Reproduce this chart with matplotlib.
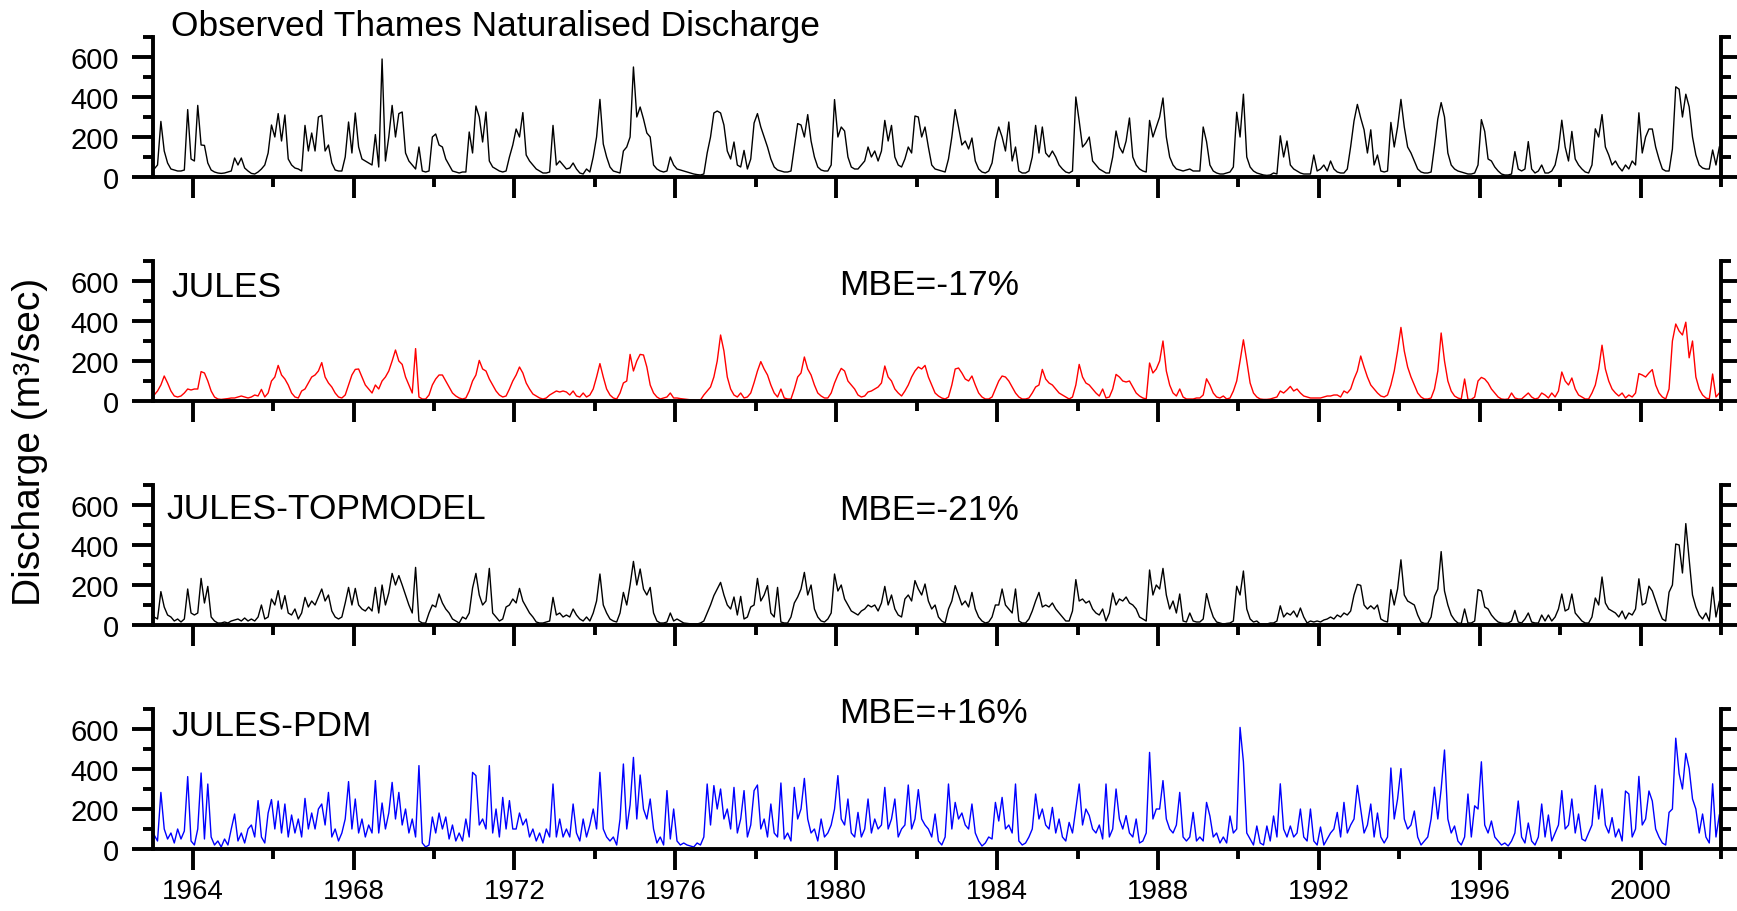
import numpy as np
import matplotlib.pyplot as plt
from matplotlib.ticker import FixedLocator

plt.rcParams['font.family'] = ['Liberation Sans', 'DejaVu Sans']

# --- dane: miesięczne przepływy [m3/s], 1963-2001, 12 wartości na rok ---
years = list(range(1963, 2002))

observed = [
    40, 60, 278, 130, 70, 40, 35, 30, 30, 35, 337, 90,      # 1963
    80, 358, 160, 158, 70, 35, 25, 20, 18, 20, 25, 30,      # 1964
    95, 60, 95, 45, 30, 18, 15, 25, 40, 60, 120, 260,       # 1965
    200, 317, 180, 310, 90, 60, 45, 40, 30, 258, 130, 220,  # 1966
    130, 300, 308, 130, 160, 70, 35, 30, 30, 100, 275, 120, # 1967
    320, 150, 90, 80, 70, 60, 212, 50, 590, 80, 200, 358,   # 1968
    200, 317, 325, 120, 80, 60, 40, 150, 30, 25, 30, 200,   # 1969
    215, 160, 150, 90, 60, 30, 25, 20, 25, 25, 225, 120,    # 1970
    355, 300, 175, 325, 80, 50, 40, 30, 25, 30, 100, 160,   # 1971
    240, 200, 322, 110, 80, 60, 40, 30, 20, 20, 25, 258,    # 1972
    60, 80, 60, 40, 45, 70, 40, 20, 15, 40, 25, 100,        # 1973
    200, 388, 165, 100, 50, 30, 25, 20, 130, 150, 200, 550, # 1974
    300, 350, 290, 220, 200, 60, 40, 30, 25, 30, 100, 60,   # 1975
    40, 35, 30, 25, 20, 15, 12, 10, 15, 120, 200, 320,      # 1976
    330, 320, 260, 130, 90, 175, 60, 50, 133, 40, 90, 270,  # 1977
    317, 250, 200, 150, 90, 50, 35, 30, 25, 25, 30, 150,    # 1978
    267, 260, 200, 312, 180, 100, 50, 35, 30, 30, 60, 387,  # 1979
    200, 250, 230, 100, 50, 40, 40, 60, 80, 150, 100, 130,  # 1980
    80, 130, 283, 180, 258, 100, 60, 50, 90, 150, 120, 305, # 1981
    300, 200, 250, 150, 60, 40, 35, 30, 25, 90, 200, 337,   # 1982
    250, 160, 180, 140, 195, 80, 40, 25, 20, 30, 70, 180,   # 1983
    250, 200, 130, 275, 80, 150, 30, 20, 20, 30, 100, 258,  # 1984
    120, 250, 120, 100, 130, 100, 60, 40, 25, 20, 30, 400,  # 1985
    280, 150, 170, 200, 80, 60, 40, 30, 20, 20, 100, 230,   # 1986
    150, 120, 180, 295, 100, 60, 40, 30, 25, 283, 200, 250, # 1987
    300, 395, 200, 100, 60, 40, 35, 30, 35, 40, 30, 30,     # 1988
    30, 250, 177, 60, 30, 20, 15, 15, 20, 25, 50, 324,      # 1989
    200, 414, 100, 50, 30, 20, 15, 10, 8, 10, 20, 15,       # 1990
    206, 100, 180, 60, 40, 30, 20, 15, 15, 15, 110, 30,     # 1991
    40, 60, 30, 80, 40, 25, 20, 20, 40, 152, 280, 363,      # 1992
    295, 236, 120, 236, 60, 110, 30, 25, 30, 273, 150, 250, # 1993
    388, 250, 150, 120, 80, 40, 25, 20, 20, 25, 152, 290,   # 1994
    372, 300, 120, 60, 40, 30, 25, 20, 15, 15, 20, 60,      # 1995
    287, 228, 90, 80, 50, 30, 15, 10, 10, 15, 127, 40,      # 1996
    30, 40, 177, 40, 20, 30, 60, 20, 20, 30, 60, 140,       # 1997
    284, 150, 80, 228, 90, 60, 40, 25, 20, 60, 241, 200,    # 1998
    312, 150, 110, 60, 80, 50, 30, 60, 40, 80, 60, 321,     # 1999
    120, 200, 240, 240, 150, 90, 40, 30, 30, 140, 451, 439, # 2000
    300, 414, 351, 200, 110, 60, 45, 40, 40, 135, 60, 150,  # 2001
]

jules = [
    30, 50, 80, 125, 90, 50, 25, 20, 25, 40, 60, 55,
    60, 60, 147, 140, 100, 50, 20, 10, 8, 10, 12, 15,
    15, 20, 25, 20, 15, 20, 30, 25, 58, 20, 40, 100,
    120, 178, 130, 110, 80, 40, 20, 15, 50, 60, 90, 120,
    130, 150, 192, 120, 90, 70, 40, 20, 15, 30, 80, 130,
    158, 160, 120, 80, 60, 40, 80, 60, 100, 120, 150, 200,
    255, 200, 183, 120, 80, 40, 262, 20, 10, 10, 30, 80,
    110, 130, 130, 100, 70, 40, 25, 15, 10, 15, 50, 100,
    130, 203, 160, 150, 110, 80, 50, 30, 20, 25, 60, 100,
    130, 170, 140, 90, 60, 35, 25, 15, 10, 15, 30, 40,
    50, 45, 50, 45, 30, 50, 25, 20, 40, 20, 30, 60,
    120, 187, 120, 60, 30, 15, 10, 40, 90, 100, 233, 150,
    200, 233, 230, 170, 80, 40, 20, 10, 15, 20, 40, 15,
    15, 12, 10, 8, 6, 5, 4, 5, 30, 50, 70, 120,
    200, 330, 250, 120, 60, 30, 20, 40, 15, 20, 40, 92,
    150, 197, 160, 130, 80, 40, 20, 60, 15, 10, 10, 60,
    120, 140, 220, 160, 130, 80, 40, 25, 15, 15, 40, 90,
    130, 163, 150, 100, 80, 60, 30, 20, 25, 45, 50, 60,
    70, 90, 175, 120, 100, 60, 40, 25, 50, 80, 120, 150,
    170, 160, 178, 120, 80, 40, 25, 15, 10, 20, 80, 160,
    165, 140, 110, 100, 125, 80, 40, 20, 10, 10, 20, 60,
    100, 125, 120, 100, 70, 40, 20, 10, 10, 15, 40, 70,
    80, 158, 110, 90, 80, 60, 40, 30, 20, 10, 20, 80,
    183, 120, 90, 80, 60, 40, 25, 60, 15, 20, 60, 133,
    120, 100, 95, 100, 70, 40, 25, 15, 10, 190, 140, 160,
    200, 300, 150, 80, 40, 25, 60, 20, 10, 10, 10, 15,
    15, 30, 111, 80, 40, 20, 15, 25, 10, 15, 50, 100,
    200, 306, 200, 90, 40, 20, 10, 8, 8, 10, 15, 20,
    50, 40, 55, 73, 50, 60, 40, 25, 20, 15, 15, 15,
    15, 20, 25, 25, 30, 30, 20, 50, 40, 60, 110, 150,
    225, 170, 120, 80, 60, 40, 25, 20, 30, 80, 150, 250,
    368, 250, 170, 120, 80, 40, 20, 10, 10, 15, 60, 150,
    340, 200, 100, 50, 25, 15, 10, 110, 8, 8, 20, 100,
    118, 110, 90, 60, 40, 20, 10, 8, 10, 40, 15, 10,
    10, 25, 40, 20, 10, 15, 40, 30, 15, 40, 20, 50,
    145, 100, 80, 115, 60, 30, 20, 10, 10, 40, 80, 160,
    279, 160, 100, 60, 40, 25, 40, 15, 30, 20, 40, 137,
    130, 120, 140, 157, 80, 40, 20, 10, 60, 300, 385, 350,
    330, 394, 216, 300, 120, 60, 30, 15, 10, 135, 20, 40,
]

topmodel = [
    40, 30, 167, 90, 50, 40, 20, 30, 15, 30, 180, 60,
    50, 60, 233, 110, 193, 40, 20, 10, 10, 15, 10, 20,
    25, 30, 20, 35, 20, 30, 20, 40, 100, 30, 40, 130,
    100, 172, 80, 147, 60, 50, 80, 30, 60, 138, 90, 120,
    100, 140, 180, 120, 150, 70, 40, 30, 40, 110, 188, 100,
    183, 100, 80, 70, 90, 70, 188, 60, 200, 100, 160, 258,
    200, 247, 200, 150, 100, 60, 288, 20, 10, 10, 60, 100,
    90, 155, 110, 80, 60, 30, 20, 10, 40, 30, 60, 185,
    258, 150, 100, 120, 283, 60, 40, 20, 30, 90, 100, 130,
    110, 183, 120, 90, 60, 40, 15, 10, 10, 15, 20, 138,
    50, 60, 40, 50, 40, 80, 50, 30, 20, 40, 20, 60,
    120, 255, 100, 60, 30, 20, 15, 60, 163, 100, 200, 318,
    200, 280, 180, 150, 188, 60, 20, 10, 10, 15, 60, 20,
    30, 20, 10, 8, 6, 5, 5, 10, 20, 60, 100, 147,
    180, 213, 150, 100, 80, 140, 50, 143, 30, 40, 90, 100,
    233, 120, 150, 197, 60, 40, 188, 15, 10, 10, 40, 110,
    140, 180, 263, 150, 200, 80, 40, 20, 15, 30, 60, 255,
    170, 200, 130, 100, 70, 60, 50, 70, 80, 100, 90, 100,
    70, 110, 193, 100, 150, 80, 50, 40, 130, 150, 120, 222,
    180, 150, 205, 120, 80, 100, 40, 20, 10, 80, 120, 197,
    150, 100, 120, 90, 163, 80, 40, 20, 10, 15, 40, 100,
    100, 180, 100, 80, 60, 180, 20, 10, 10, 30, 70, 120,
    163, 90, 100, 90, 110, 80, 60, 40, 20, 20, 70, 227,
    120, 130, 110, 120, 80, 60, 50, 80, 20, 60, 160, 100,
    130, 120, 140, 110, 100, 80, 40, 30, 20, 275, 150, 200,
    180, 283, 150, 80, 120, 60, 155, 20, 15, 60, 20, 15,
    15, 30, 157, 90, 40, 15, 10, 5, 8, 10, 20, 194,
    150, 270, 80, 30, 15, 20, 5, 5, 5, 10, 10, 20,
    96, 40, 60, 50, 70, 40, 85, 40, 10, 20, 15, 20,
    15, 25, 30, 40, 30, 50, 40, 60, 50, 70, 150, 203,
    198, 100, 80, 96, 80, 100, 30, 20, 15, 177, 100, 180,
    326, 150, 120, 110, 100, 50, 15, 8, 8, 40, 143, 180,
    367, 170, 100, 50, 25, 10, 8, 80, 10, 10, 20, 177,
    170, 90, 80, 50, 30, 15, 10, 8, 10, 20, 73, 15,
    10, 30, 60, 15, 10, 10, 50, 20, 50, 20, 40, 80,
    155, 70, 80, 155, 60, 40, 20, 10, 10, 40, 135, 100,
    240, 110, 80, 70, 60, 40, 70, 30, 60, 50, 80, 231,
    100, 110, 194, 170, 120, 70, 30, 20, 164, 200, 405, 400,
    260, 507, 330, 150, 90, 50, 30, 60, 20, 189, 40, 118,
]

pdm = [
    70, 40, 283, 100, 50, 80, 30, 100, 50, 90, 362, 40,
    20, 100, 380, 50, 325, 60, 20, 40, 10, 50, 20, 100,
    175, 40, 80, 30, 100, 120, 60, 242, 60, 30, 180, 247,
    100, 240, 80, 225, 60, 170, 80, 150, 60, 253, 100, 180,
    100, 200, 225, 120, 283, 60, 100, 40, 80, 150, 337, 100,
    250, 80, 150, 60, 120, 80, 342, 80, 230, 100, 180, 333,
    150, 283, 120, 200, 80, 150, 60, 417, 30, 10, 20, 160,
    80, 180, 100, 160, 50, 120, 40, 80, 40, 150, 60, 383,
    367, 120, 150, 100, 417, 80, 200, 60, 258, 100, 242, 100,
    100, 180, 120, 150, 60, 100, 40, 80, 30, 100, 60, 325,
    60, 150, 60, 100, 60, 225, 80, 40, 150, 60, 120, 200,
    100, 383, 100, 60, 40, 60, 20, 150, 425, 100, 220, 458,
    150, 370, 200, 150, 250, 100, 30, 60, 20, 292, 50, 200,
    40, 20, 30, 20, 15, 10, 30, 20, 60, 325, 120, 317,
    200, 300, 150, 200, 100, 308, 80, 150, 292, 60, 120, 292,
    320, 100, 150, 60, 225, 80, 60, 330, 50, 80, 40, 308,
    150, 200, 353, 150, 80, 100, 40, 150, 60, 80, 120, 200,
    367, 150, 120, 250, 80, 60, 183, 60, 100, 250, 80, 150,
    100, 120, 308, 100, 150, 250, 60, 100, 120, 320, 100, 150,
    297, 150, 120, 100, 60, 175, 40, 20, 60, 325, 100, 233,
    150, 180, 120, 100, 225, 80, 40, 15, 30, 60, 50, 233,
    140, 258, 100, 120, 80, 325, 40, 20, 30, 60, 100, 275,
    150, 200, 120, 100, 208, 80, 150, 60, 40, 133, 80, 200,
    325, 120, 200, 167, 100, 80, 120, 50, 325, 60, 100, 300,
    150, 100, 167, 80, 60, 150, 30, 40, 80, 483, 150, 200,
    200, 342, 150, 100, 80, 120, 283, 60, 40, 60, 183, 40,
    60, 40, 233, 165, 60, 80, 30, 60, 30, 165, 80, 100,
    608, 436, 80, 50, 20, 115, 30, 20, 115, 40, 165, 60,
    326, 100, 60, 115, 60, 80, 200, 60, 40, 200, 40, 20,
    110, 20, 50, 80, 100, 183, 60, 233, 80, 120, 150, 318,
    200, 80, 120, 225, 60, 180, 60, 30, 60, 405, 150, 250,
    402, 150, 100, 120, 190, 60, 20, 40, 60, 150, 309, 150,
    300, 495, 150, 80, 115, 40, 20, 60, 275, 60, 216, 200,
    436, 120, 80, 140, 60, 40, 20, 30, 15, 40, 80, 240,
    60, 30, 130, 40, 20, 60, 225, 60, 170, 40, 80, 120,
    292, 100, 120, 250, 80, 175, 50, 40, 80, 120, 318, 150,
    300, 120, 80, 157, 60, 100, 40, 290, 275, 60, 100, 363,
    120, 150, 290, 240, 100, 60, 30, 20, 183, 200, 554, 377,
    300, 478, 402, 250, 200, 80, 175, 60, 30, 326, 60, 170,
]

names  = ["Observed Thames Naturalised Discharge", "JULES", "JULES-TOPMODEL", "JULES-PDM"]
mbe    = [None, "MBE=-17%", "MBE=-21%", "MBE=+16%"]
series = [observed, jules, topmodel, pdm]
colors = ["black", "red", "black", "blue"]

# oś czasu: środek każdego miesiąca w latach dziesiętnych
t = (np.array(years)[:, None] + (np.arange(12)[None, :] + 0.5) / 12).ravel()

# --- wykres ---
W, H = 1737, 912
fig = plt.figure(figsize=(W / 100, H / 100), dpi=100)

left, width = 152.5 / W, 1568.5 / W
ph = 140 / H
name_pos = [(0.012, 1.012), (0.012, 0.75), (0.009, 0.764), (0.012, 0.814)]
mbe_pos = [None, (0.438, 0.764), (0.438, 0.757), (0.438, 0.907)]

for k in range(4):
    bottom = 1 - (178 + 224 * k) / H
    ax = fig.add_axes([left, bottom, width, ph])
    ax.plot(t, series[k], color=colors[k], lw=1.0)
    ax.set_xlim(1963, 2002)
    ax.set_ylim(0, 700)

    ax.spines['top'].set_visible(False)
    for s in ['left', 'right', 'bottom']:
        ax.spines[s].set_linewidth(2.8)

    ax.yaxis.set_major_locator(FixedLocator([0, 200, 400, 600]))
    ax.yaxis.set_minor_locator(FixedLocator([100, 300, 500, 700]))
    ax.xaxis.set_major_locator(FixedLocator(list(range(1964, 2001, 4))))
    ax.xaxis.set_minor_locator(FixedLocator(list(range(1966, 2003, 4))))

    ax.tick_params(axis='y', which='both', left=True, right=True, direction='out',
                   width=2.8, labelsize=21, pad=9)
    ax.tick_params(axis='x', which='both', bottom=True, top=False, direction='out',
                   width=2.8, labelsize=20, pad=6)
    ax.tick_params(which='major', length=15)
    ax.tick_params(which='minor', length=7.5)
    if k < 3:
        ax.tick_params(axis='x', labelbottom=False)

    ax.text(*name_pos[k], names[k], transform=ax.transAxes, fontsize=25.5,
            ha='left', va='baseline')
    if mbe[k]:
        ax.text(*mbe_pos[k], mbe[k], transform=ax.transAxes, fontsize=25.5,
                ha='left', va='baseline')

fig.text(30 / W, 1 - 442 / H, "Discharge (m³/sec)", rotation=90,
         ha='center', va='center', fontsize=28)

fig.savefig("out.png", dpi=100)
